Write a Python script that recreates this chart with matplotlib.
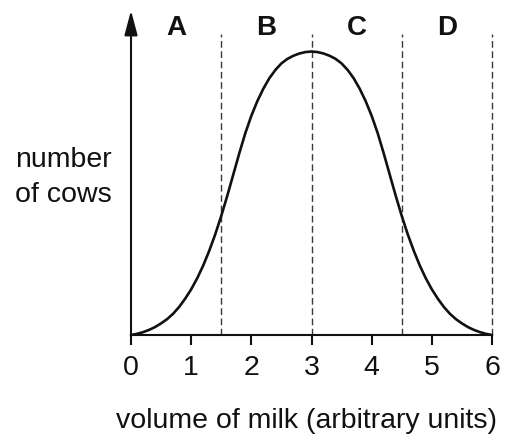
import matplotlib
matplotlib.use("Agg")
import matplotlib.pyplot as plt

plt.rcParams['font.family'] = ['Liberation Sans', 'DejaVu Sans']

# milk volume (arbitrary units) and relative number of cows
volume = [0.0, 0.1, 0.2, 0.3, 0.4, 0.5, 0.6, 0.7, 0.8, 0.9,
          1.0, 1.1, 1.2, 1.3, 1.4, 1.5, 1.6, 1.7, 1.8, 1.9,
          2.0, 2.1, 2.2, 2.3, 2.4, 2.5, 2.6, 2.7, 2.8, 2.9,
          3.0, 3.1, 3.2, 3.3, 3.4, 3.5, 3.6, 3.7, 3.8, 3.9,
          4.0, 4.1, 4.2, 4.3, 4.4, 4.5, 4.6, 4.7, 4.8, 4.9,
          5.0, 5.1, 5.2, 5.3, 5.4, 5.5, 5.6, 5.7, 5.8, 5.9, 6.0]
cows = [0.000, 0.004, 0.010, 0.018, 0.028, 0.041, 0.056, 0.075, 0.099, 0.128,
        0.161, 0.200, 0.245, 0.297, 0.355, 0.420, 0.491, 0.566, 0.641, 0.712,
        0.773, 0.825, 0.869, 0.906, 0.935, 0.958, 0.974, 0.985, 0.993, 0.998,
        1.000, 0.998, 0.993, 0.985, 0.974, 0.958, 0.935, 0.906, 0.869, 0.825,
        0.773, 0.712, 0.641, 0.566, 0.491, 0.420, 0.355, 0.297, 0.245, 0.200,
        0.161, 0.128, 0.099, 0.075, 0.056, 0.041, 0.028, 0.018, 0.010, 0.004, 0.000]

boundaries = [1.5, 3.0, 4.5, 6.0]
group_labels = ['A', 'B', 'C', 'D']
group_centres = [0.75, 2.25, 3.75, 5.25]
xticks = [0, 1, 2, 3, 4, 5, 6]

W, H = 511, 435
fig = plt.figure(figsize=(W / 100, H / 100), dpi=100)
left, right, bottom, top = 131, 492, 336, 35
ax = fig.add_axes([left / W, 1 - bottom / H, (right - left) / W, (bottom - top) / H])

ax.set_xlim(0, 6)
ax.set_ylim(0, 1.0 * (bottom - top) / (bottom - 52.5))

for b in boundaries:
    ax.axvline(b, ymin=0, ymax=1, color='#3a3a3a', lw=1.0, ls=(0, (4.8, 2.6)),
               zorder=1, clip_on=False)

ax.plot(volume, cows, color='#111111', lw=1.9, zorder=3, clip_on=False,
        solid_capstyle='round', solid_joinstyle='round')

for s in ['top', 'right']:
    ax.spines[s].set_visible(False)
ax.spines['bottom'].set_linewidth(1.5)
ax.spines['bottom'].set_color('#111111')
ax.spines['left'].set_visible(False)

# vertical axis with arrow head
ax.annotate('', xy=(0, 1.078), xytext=(0, 0), xycoords='axes fraction',
            textcoords='axes fraction',
            arrowprops=dict(arrowstyle='-|>,head_length=1.5,head_width=0.4',
                            color='#111111', lw=1.5, shrinkA=0, shrinkB=0))

ax.set_xticks(xticks)
ax.set_xticklabels([str(t) for t in xticks])
ax.set_yticks([])
ax.tick_params(axis='x', direction='out', length=7.5, width=1.5, pad=6,
               labelsize=20.5, colors='#111111')

for lab, c in zip(group_labels, group_centres):
    ax.text(c, 1.0, lab, transform=ax.get_xaxis_transform(), ha='center',
            va='baseline', fontsize=20, fontweight='bold', color='#111111')

fig.text(15 / W, 1 - 167 / H, 'number', ha='left', va='baseline',
         fontsize=20.5, color='#111111')
fig.text(15 / W, 1 - 202 / H, 'of cows', ha='left', va='baseline',
         fontsize=20.5, color='#111111')
fig.text(306 / W, 1 - 428 / H, 'volume of milk (arbitrary units)', ha='center',
         va='baseline', fontsize=20.5, color='#111111')

fig.savefig('out.png', dpi=100)
